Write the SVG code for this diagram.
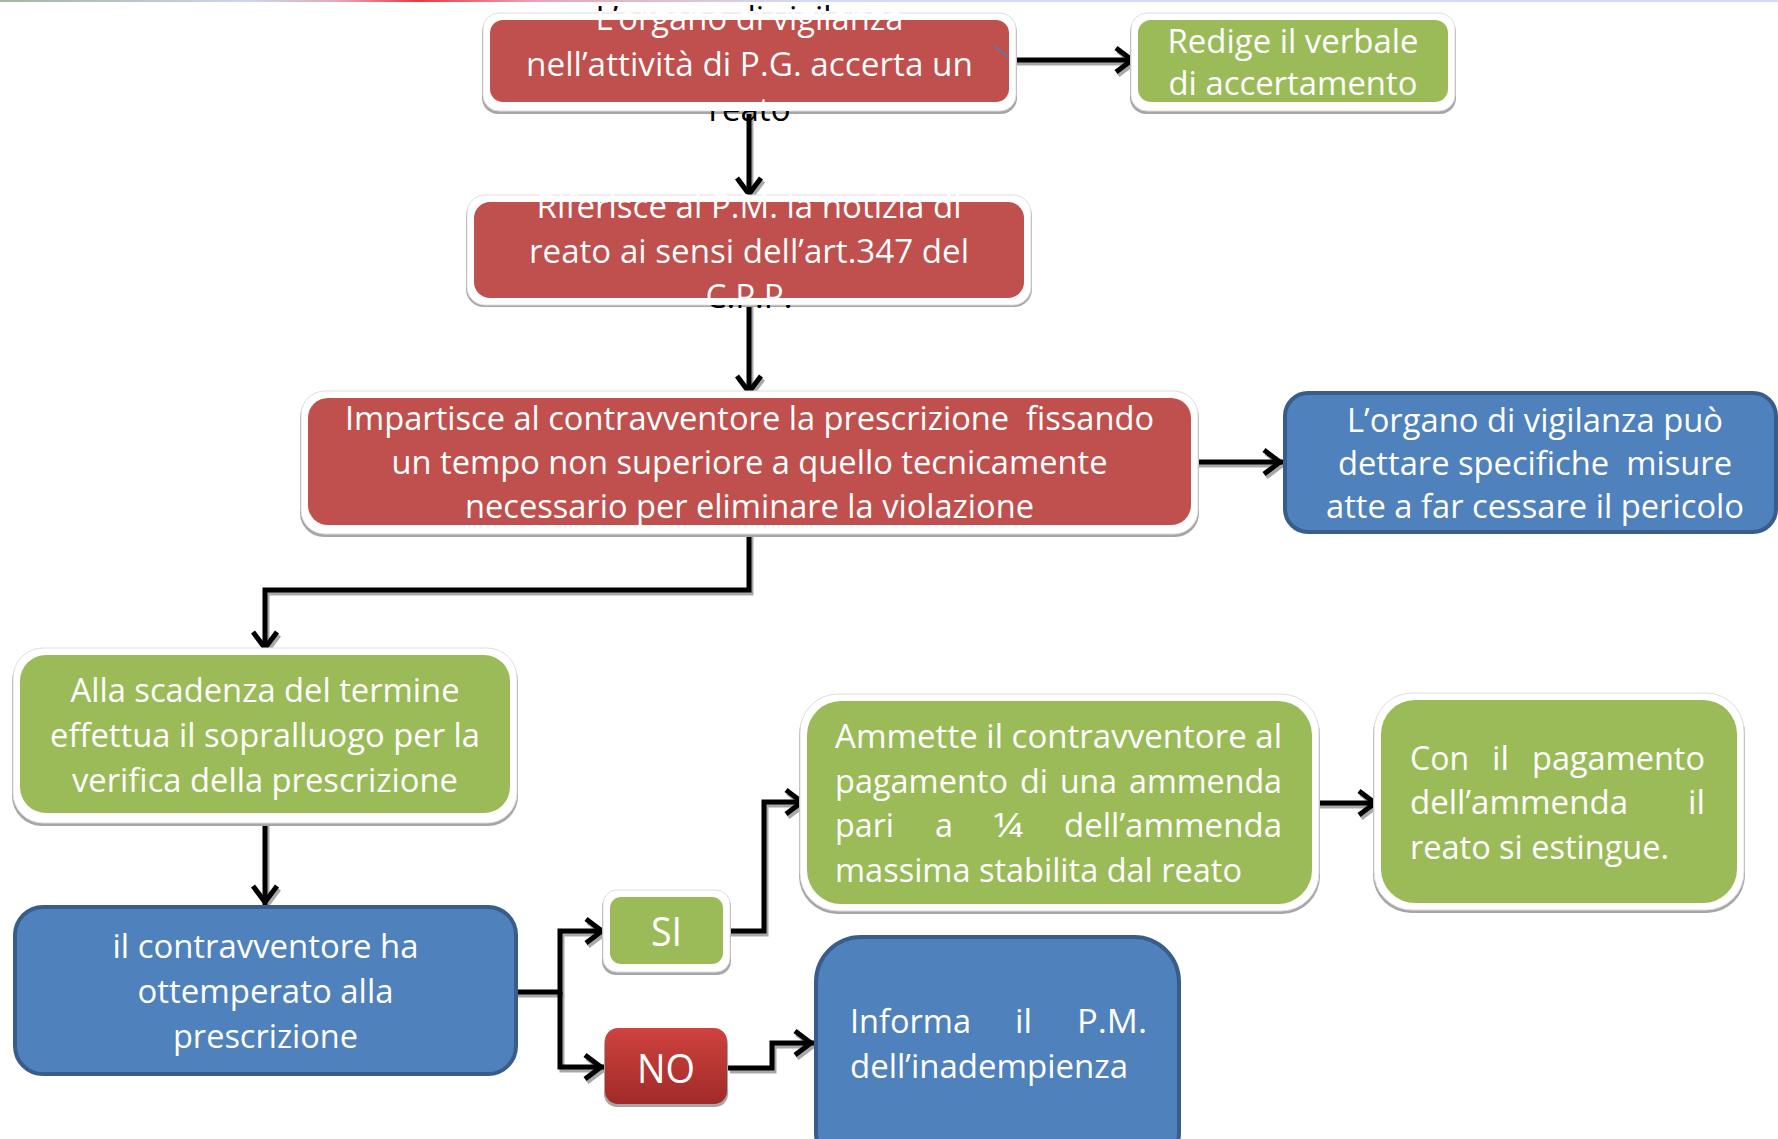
<svg xmlns="http://www.w3.org/2000/svg" width="1778" height="1139" viewBox="0 0 1778 1139">
<style>
.red{fill:#C0504D}
.green{fill:#9BBB59}
.blue{fill:#4F81BD;stroke:#385D8A;stroke-width:4}
.frame{fill:#fff;stroke:#dedede;stroke-width:1}
.shadow{fill:#a6a6a6}
.t{font-family:"Open Sans","Liberation Sans",sans-serif;font-size:33px;fill:#fff}
.c{text-anchor:middle}
.big{font-size:40px}
.conn{fill:none;stroke:#000;stroke-width:5;marker-end:url(#ah)}
.conns{fill:none;stroke:#a8a8a8;stroke-width:5;marker-end:url(#ahs)}
</style>
<defs>
<marker id="ah" markerUnits="userSpaceOnUse" viewBox="-26 -16 30 32" markerWidth="30" markerHeight="32" refX="0" refY="0" orient="auto" overflow="visible">
<path d="M-20,-12 L-4,0 L-20,12" fill="none" stroke="#000" stroke-width="5" stroke-linejoin="miter"/>
</marker>
<marker id="ahs" markerUnits="userSpaceOnUse" viewBox="-26 -16 30 32" markerWidth="30" markerHeight="32" refX="0" refY="0" orient="auto" overflow="visible">
<path d="M-20,-12 L-4,0 L-20,12" fill="none" stroke="#a8a8a8" stroke-width="5" stroke-linejoin="miter"/>
</marker>
<linearGradient id="g1" gradientUnits="userSpaceOnUse" x1="0" y1="0" x2="0" y2="130">
<stop offset="0" stop-color="#000"/><stop offset="0.085" stop-color="#000"/><stop offset="0.085" stop-color="#fff"/>
<stop offset="0.8538" stop-color="#fff"/><stop offset="0.8538" stop-color="#000"/><stop offset="1" stop-color="#000"/>
</linearGradient>
<linearGradient id="g2" gradientUnits="userSpaceOnUse" x1="0" y1="180" x2="0" y2="330">
<stop offset="0" stop-color="#fff"/>
<stop offset="0.8333" stop-color="#fff"/><stop offset="0.8333" stop-color="#000"/><stop offset="1" stop-color="#000"/>
</linearGradient>
<linearGradient id="gno" x1="0" y1="0" x2="0" y2="1">
<stop offset="0" stop-color="#D0423F"/><stop offset="1" stop-color="#A02A28"/>
</linearGradient>
<linearGradient id="gtop" x1="0" y1="0" x2="1" y2="0">
<stop offset="0" stop-color="#a3b59f"/><stop offset="0.14" stop-color="#c9d8f2"/><stop offset="0.19" stop-color="#e6a7b8"/>
<stop offset="0.235" stop-color="#f2363a"/><stop offset="0.3" stop-color="#e9a3b5"/><stop offset="0.45" stop-color="#d3daf5"/><stop offset="1" stop-color="#d3ddf6"/>
</linearGradient>
</defs>
<rect width="1778" height="1139" fill="#fff"/>
<rect x="0" y="0" width="1778" height="2" fill="url(#gtop)"/>

<g id="connectors">
<g transform="translate(2,3)">
<path class="conns" d="M1013 60 H1136"/>
<path class="conns" d="M749 104 V198"/>
<path class="conns" d="M749 300 V396"/>
<path class="conns" d="M1195 462 H1284"/>
<path class="conns" d="M749 527 V590 H265 V652"/>
<path class="conns" d="M265 818 V906"/>
<path class="conns" d="M516 992 H560 V931 H606"/>
<path class="conns" d="M560 992 V1067 H605"/>
<path class="conns" d="M727 931 H764 V802 H806"/>
<path class="conns" d="M1317 803 H1379"/>
<path class="conns" d="M728 1068 H772 V1043 H815"/>
</g>
<path class="conn" d="M1013 60 H1136"/>
<path class="conn" d="M749 104 V198"/>
<path class="conn" d="M749 300 V396"/>
<path class="conn" d="M1195 462 H1284"/>
<path class="conn" d="M749 527 V590 H265 V652"/>
<path class="conn" d="M265 818 V906"/>
<path class="conn" d="M516 992 H560 V931 H606"/>
<path class="conn" d="M560 992 V1067 H605"/>
<path class="conn" d="M727 931 H764 V802 H806"/>
<path class="conn" d="M1317 803 H1379"/>
<path class="conn" d="M728 1068 H772 V1043 H815"/>
</g>

<g id="n1">
<rect class="shadow" x="482" y="16" width="535" height="98" rx="16"/>
<rect class="frame" x="483" y="13" width="533" height="98" rx="16"/>
<rect class="red" x="490" y="20" width="519" height="82" rx="13"/>
<path d="M994 46 L1008 57" stroke="#4F81BD" stroke-width="1.5" fill="none"/>
<text class="t c" style="fill:url(#g1)" x="749.5" y="30" textLength="308" lengthAdjust="spacingAndGlyphs">L’organo di vigilanza</text>
<text class="t c" style="fill:url(#g1)" x="749.5" y="76" textLength="447" lengthAdjust="spacingAndGlyphs">nell’attività di P.G. accerta un</text>
<text class="t c" style="fill:url(#g1)" x="749.5" y="121" textLength="82" lengthAdjust="spacingAndGlyphs">reato</text>
</g>

<g id="n2">
<rect class="shadow" x="466" y="198" width="566" height="109" rx="18"/>
<rect class="frame" x="467" y="195" width="564" height="110" rx="18"/>
<rect class="red" x="474" y="202" width="550" height="96" rx="16"/>
<text class="t c" style="fill:url(#g2)" x="749" y="218" textLength="425" lengthAdjust="spacingAndGlyphs">Riferisce al P.M. la notizia di</text>
<text class="t c" style="fill:url(#g2)" x="749" y="263" textLength="440" lengthAdjust="spacingAndGlyphs">reato ai sensi dell’art.347 del</text>
<text class="t c" style="fill:url(#g2)" x="749" y="308" textLength="87" lengthAdjust="spacingAndGlyphs">C.P.P.</text>
</g>

<g id="n3">
<rect class="shadow" x="1130" y="16" width="326" height="98" rx="16"/>
<rect class="frame" x="1131" y="13" width="324" height="98" rx="16"/>
<rect class="green" x="1138" y="20" width="310" height="82" rx="13"/>
<text class="t c" x="1293" y="53" textLength="251" lengthAdjust="spacingAndGlyphs">Redige il verbale</text>
<text class="t c" x="1293" y="95" textLength="249" lengthAdjust="spacingAndGlyphs">di accertamento</text>
</g>

<g id="n4">
<rect class="shadow" x="300" y="394" width="899" height="143" rx="24"/>
<rect class="frame" x="301" y="391" width="897" height="143" rx="24"/>
<rect class="red" x="308" y="398" width="883" height="127" rx="20"/>
<text class="t c" xml:space="preserve" x="749.5" y="430" textLength="809" lengthAdjust="spacingAndGlyphs">Impartisce al contravventore la prescrizione  fissando</text>
<text class="t c" x="749.5" y="474" textLength="716" lengthAdjust="spacingAndGlyphs">un tempo non superiore a quello tecnicamente</text>
<text class="t c" x="749.5" y="518" textLength="569" lengthAdjust="spacingAndGlyphs">necessario per eliminare la violazione</text>
</g>

<g id="n5">
<rect class="blue" x="1285" y="393" width="491" height="139" rx="23"/>
<text class="t c" x="1535" y="432" textLength="376" lengthAdjust="spacingAndGlyphs">L’organo di vigilanza può</text>
<text class="t c" xml:space="preserve" x="1535" y="475" textLength="394" lengthAdjust="spacingAndGlyphs">dettare specifiche  misure</text>
<text class="t c" x="1535" y="518" textLength="418" lengthAdjust="spacingAndGlyphs">atte a far cessare il pericolo</text>
</g>

<g id="n6">
<rect class="shadow" x="12" y="651" width="506" height="175" rx="30"/>
<rect class="frame" x="13" y="648" width="504" height="175" rx="30"/>
<rect class="green" x="20" y="655" width="490" height="158" rx="26"/>
<text class="t c" x="265" y="702" textLength="389" lengthAdjust="spacingAndGlyphs">Alla scadenza del termine</text>
<text class="t c" x="265" y="747" textLength="430" lengthAdjust="spacingAndGlyphs">effettua il sopralluogo per la</text>
<text class="t c" x="265" y="792" textLength="386" lengthAdjust="spacingAndGlyphs">verifica della prescrizione</text>
</g>

<g id="n7">
<rect class="blue" x="15" y="907" width="501" height="167" rx="28"/>
<text class="t c" x="265.5" y="958" textLength="306" lengthAdjust="spacingAndGlyphs">il contravventore ha</text>
<text class="t c" x="265.5" y="1003" textLength="256" lengthAdjust="spacingAndGlyphs">ottemperato alla</text>
<text class="t c" x="265.5" y="1048" textLength="185" lengthAdjust="spacingAndGlyphs">prescrizione</text>
</g>

<g id="si">
<rect class="shadow" x="602" y="893" width="129" height="82" rx="14"/>
<rect class="frame" x="603" y="890" width="127" height="82" rx="14"/>
<rect class="green" x="610" y="897" width="113" height="67" rx="11"/>
<text class="t c big" x="666.5" y="946" textLength="31" lengthAdjust="spacingAndGlyphs">SI</text>
</g>

<g id="no">
<rect class="shadow" x="604" y="1031" width="124" height="76" rx="13"/>
<rect x="605" y="1028" width="122" height="76" rx="13" fill="url(#gno)"/>
<text class="t c big" x="666" y="1083" textLength="58" lengthAdjust="spacingAndGlyphs">NO</text>
</g>

<g id="n8">
<rect class="shadow" x="799" y="697" width="521" height="217" rx="38"/>
<rect class="frame" x="800" y="694" width="519" height="217" rx="38"/>
<rect class="green" x="807" y="701" width="505" height="203" rx="34"/>
<text class="t" x="835" y="748" textLength="447" lengthAdjust="spacingAndGlyphs">Ammette il contravventore al</text>
<text class="t" x="835" y="793" textLength="173" lengthAdjust="spacingAndGlyphs">pagamento</text>
<text class="t" x="1020" y="793" textLength="28" lengthAdjust="spacingAndGlyphs">di</text>
<text class="t" x="1060" y="793" textLength="57" lengthAdjust="spacingAndGlyphs">una</text>
<text class="t" x="1129" y="793" textLength="153" lengthAdjust="spacingAndGlyphs">ammenda</text>
<text class="t" x="835" y="837" textLength="59" lengthAdjust="spacingAndGlyphs">pari</text>
<text class="t" x="935" y="837" textLength="18" lengthAdjust="spacingAndGlyphs">a</text>
<text class="t" x="993" y="837" textLength="30" lengthAdjust="spacingAndGlyphs">¼</text>
<text class="t" x="1064" y="837" textLength="218" lengthAdjust="spacingAndGlyphs">dell’ammenda</text>
<text class="t" x="835" y="882" textLength="407" lengthAdjust="spacingAndGlyphs">massima stabilita dal reato</text>
</g>

<g id="n9">
<rect class="shadow" x="1373" y="696" width="372" height="217" rx="38"/>
<rect class="frame" x="1374" y="693" width="370" height="217" rx="38"/>
<rect class="green" x="1381" y="700" width="356" height="203" rx="34"/>
<text class="t" x="1410" y="770" textLength="59" lengthAdjust="spacingAndGlyphs">Con</text>
<text class="t" x="1492" y="770" textLength="17" lengthAdjust="spacingAndGlyphs">il</text>
<text class="t" x="1532" y="770" textLength="173" lengthAdjust="spacingAndGlyphs">pagamento</text>
<text class="t" x="1410" y="814" textLength="218" lengthAdjust="spacingAndGlyphs">dell’ammenda</text>
<text class="t" x="1688" y="814" textLength="17" lengthAdjust="spacingAndGlyphs">il</text>
<text class="t" x="1410" y="859" textLength="259" lengthAdjust="spacingAndGlyphs">reato si estingue.</text>
</g>

<g id="n10">
<rect class="blue" x="816" y="937" width="363" height="240" rx="45"/>
<text class="t" x="850" y="1033" textLength="121" lengthAdjust="spacingAndGlyphs">Informa</text>
<text class="t" x="1015" y="1033" textLength="17" lengthAdjust="spacingAndGlyphs">il</text>
<text class="t" x="1077" y="1033" textLength="70" lengthAdjust="spacingAndGlyphs">P.M.</text>
<text class="t" x="850" y="1078" textLength="278" lengthAdjust="spacingAndGlyphs">dell’inadempienza</text>
</g>
</svg>
